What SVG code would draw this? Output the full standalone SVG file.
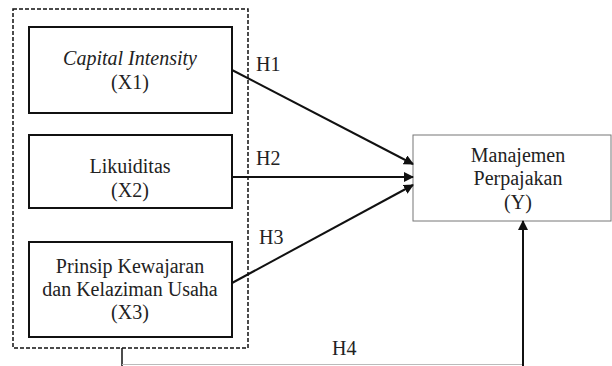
<svg xmlns="http://www.w3.org/2000/svg" width="612" height="366" viewBox="0 0 612 366">
<style>
text{font-family:'Liberation Serif','Times New Roman',serif;font-size:20px;fill:#222;text-anchor:middle}
.box{fill:#fff;stroke:#111;stroke-width:2}
.ybox{fill:#fff;stroke:#777;stroke-width:1}
.conn{stroke:#111;stroke-width:2;fill:none}
.lab{text-anchor:start}
</style>
<defs>
<marker id="ah" markerWidth="10" markerHeight="10" refX="9" refY="5" orient="auto" markerUnits="userSpaceOnUse">
<path d="M0,0 L10,5 L0,10 z" fill="#111"/>
</marker>
</defs>
<rect id="group" x="13" y="9" width="235" height="339" fill="none" stroke="#111" stroke-width="1.5" stroke-dasharray="4,2"/>
<g id="x1"><rect class="box" x="29" y="27" width="203" height="86"/><text x="130" y="65" font-style="italic">Capital Intensity</text><text x="130" y="89">(X1)</text></g>
<g id="x2"><rect class="box" x="29" y="135" width="203" height="73"/><text x="130" y="173">Likuiditas</text><text x="130" y="197">(X2)</text></g>
<g id="x3"><rect class="box" x="29" y="242" width="203" height="95"/><text x="130" y="273">Prinsip Kewajaran</text><text x="130" y="296">dan Kelaziman Usaha</text><text x="130" y="319">(X3)</text></g>
<g id="y"><rect class="ybox" x="413" y="135" width="198" height="86"/><text x="518" y="162">Manajemen</text><text x="518" y="185">Perpajakan</text><text x="518" y="209">(Y)</text></g>
<g id="connectors">
<line class="conn" x1="232" y1="70" x2="413" y2="164" marker-end="url(#ah)"/>
<line class="conn" x1="232" y1="177" x2="413" y2="177" marker-end="url(#ah)"/>
<line class="conn" x1="232" y1="283" x2="413" y2="185" marker-end="url(#ah)"/>
<line x1="122" y1="348" x2="122" y2="366" stroke="#111" stroke-width="1.5"/>
<line x1="122" y1="364.5" x2="523" y2="364.5" stroke="#bbb" stroke-width="1"/>
<line class="conn" x1="523" y1="366" x2="523" y2="221" marker-end="url(#ah)"/>
</g>
<g id="labels">
<text class="lab" x="256" y="71">H1</text>
<text class="lab" x="256" y="165">H2</text>
<text class="lab" x="259" y="244">H3</text>
<text class="lab" x="332" y="355">H4</text>
</g>
</svg>
